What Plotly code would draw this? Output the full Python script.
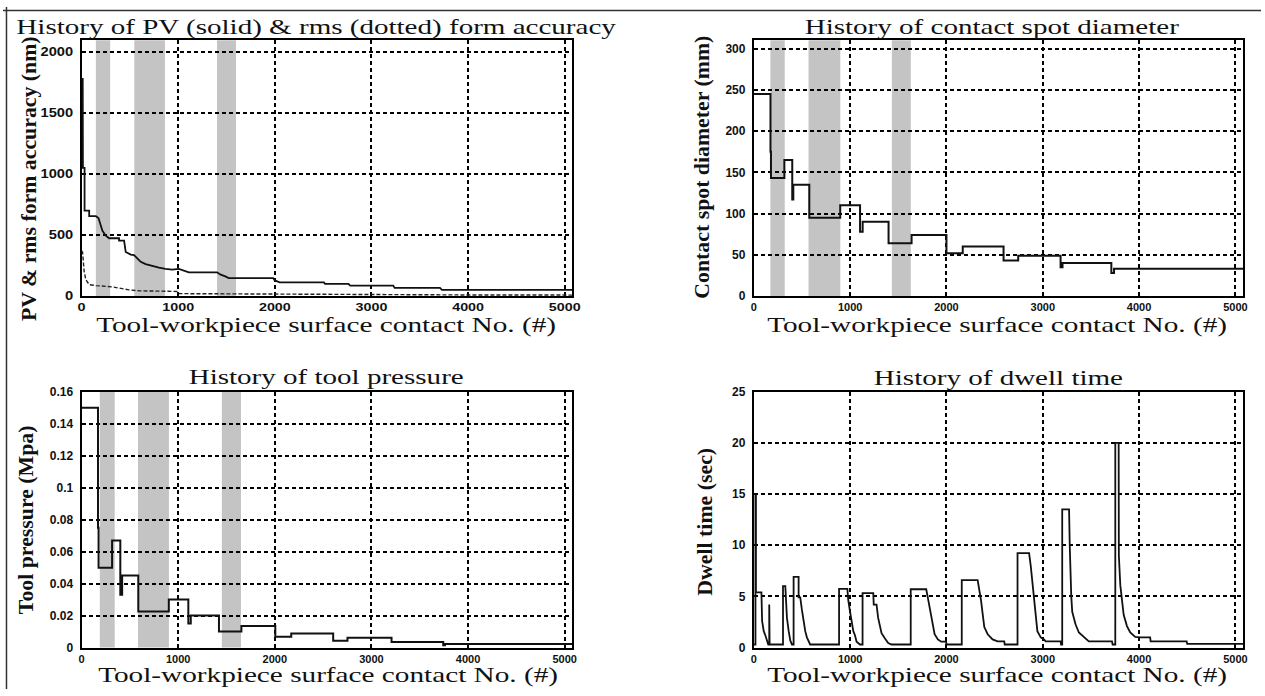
import plotly.graph_objects as go

W, H = 1265, 696

# ---- data (contact number on x) ----
pv_x = [0, 12, 14, 31, 31, 79, 79, 148, 175, 193, 216, 251, 285, 388, 388, 440, 457, 509, 543,
        577, 612, 663, 732, 801, 869, 938, 1007, 1076, 1110, 1402, 1440, 1488, 1522, 1984, 2000,
        2050, 2508, 2520, 2762, 2780, 3225, 3240, 3709, 3730, 5080]
pv_nm = [1780, 1780, 1050, 1050, 700, 700, 655, 655, 640, 590, 535, 495, 474, 474, 455, 455, 361,
         340, 335, 308, 281, 262, 246, 233, 222, 217, 222, 206, 195, 195, 175, 161, 147, 147, 128,
         112, 112, 100, 100, 86, 86, 67, 67, 51, 51]

rms_x = [0, 10, 27, 44, 79, 148, 320, 491, 595, 835, 990, 1010, 2000, 3000, 4000, 5080]
rms_nm = [370, 361, 201, 134, 94, 86, 75, 51, 43, 38, 38, 20, 15, 12, 9, 8]

spot_x = [0, 173, 178, 317, 399, 410, 576, 897, 1103, 1130, 1399, 1638, 2000, 2169, 2593, 2745,
          3185, 3205, 3712, 3740, 5080]
spot_mm = [245, 175, 143, 165, 117, 135, 95, 110, 78, 90, 64, 74, 52, 60, 43, 49, 35, 40, 28, 33, 33]

pressure_x = [0, 170, 176, 316, 401, 420, 587, 903, 1105, 1130, 1422, 1654, 2005, 2170, 2604, 2752,
              3208, 3743, 3760, 5080]
pressure_mpa = [0.150, 0.075, 0.050, 0.067, 0.033, 0.045, 0.0225, 0.030, 0.015, 0.020, 0.010, 0.0135,
                0.0067, 0.0088, 0.0043, 0.0061, 0.0035, 0.0015, 0.0022, 0.0022]

dwell_x = [0, 17, 17, 22, 22, 79, 86, 103, 121, 138, 150, 160, 160, 164, 164, 303, 303, 327, 334,
           344, 362, 379, 396, 413, 413, 465, 465, 482, 499, 517, 534, 551, 568, 585, 885, 885, 971,
           981, 999, 1016, 1033, 1050, 1067, 1102, 1129, 1129, 1240, 1245, 1274, 1291, 1309, 1326,
           1360, 1395, 1429, 1629, 1629, 1790, 1808, 1825, 1842, 1860, 1877, 1911, 1945, 1997, 2000,
           2159, 2159, 2324, 2342, 2359, 2376, 2393, 2428, 2479, 2531, 2600, 2605, 2738, 2738, 2858,
           2875, 2893, 2910, 2927, 2944, 2979, 3013, 3030, 3185, 3190, 3202, 3202, 3273, 3280, 3288,
           3296, 3306, 3320, 3340, 3375, 3426, 3478, 3719, 3725, 3753, 3753, 3788, 3790, 3805, 3822,
           3840, 3874, 3908, 3960, 4011, 4115, 4120, 4494, 4500, 5080]
dwell_sec = [0.3, 0.3, 15.0, 15.0, 5.4, 5.4, 2.6, 1.6, 1.15, 0.67, 0.3, 0.3, 4.2, 4.2, 0.3, 0.3, 6.0,
             6.0, 4.8, 2.9, 1.6, 0.67, 0.3, 0.3, 6.9, 6.9, 4.9, 4.9, 3.7, 2.6, 1.6, 1.0, 0.57, 0.3,
             0.3, 5.74, 5.74, 4.6, 3.5, 2.4, 1.6, 1.2, 0.57, 0.3, 0.3, 5.32, 5.32, 4.2, 4.2, 2.9, 2.0,
             1.4, 0.9, 0.45, 0.3, 0.3, 5.7, 5.7, 4.8, 3.9, 2.8, 1.9, 1.3, 0.8, 0.57, 0.57, 0.3, 0.3,
             6.6, 6.6, 5.74, 4.6, 3.3, 2.0, 1.3, 0.8, 0.6, 0.6, 0.3, 0.3, 9.23, 9.23, 8.0, 6.4, 4.6,
             2.9, 1.6, 1.0, 0.8, 0.61, 0.61, 0.3, 0.3, 13.5, 13.5, 10.0, 7.0, 5.0, 3.5, 2.9, 2.27,
             1.47, 1.0, 0.6, 0.6, 0.3, 0.3, 20.0, 20.0, 9.0, 6.1, 4.5, 3.2, 2.1, 1.47, 1.05, 1.0, 1.0,
             0.6, 0.6, 0.35, 0.35]

# shaded contact intervals per panel
bands_pv = [(148, 296), (546, 863), (1402, 1598)]
bands_spot = [(172, 321), (568, 898), (1433, 1630)]
bands_pressure = [(189, 343), (584, 904), (1452, 1650)]

# axes
x_ticks = [0, 1000, 2000, 3000, 4000, 5000]
x_labels = ["0", "1000", "2000", "3000", "4000", "5000"]
x_max = 5080
pv_ticks = [0, 500, 1000, 1500, 2000]
pv_max = 2096
spot_ticks = [0, 50, 100, 150, 200, 250, 300]
spot_max = 310
pressure_ticks = [0, 0.02, 0.04, 0.06, 0.08, 0.1, 0.12, 0.14, 0.16]
pressure_labels = ["0", "0.02", "0.04", "0.06", "0.08", "0.1", "0.12", "0.14", "0.16"]
pressure_max = 0.16
dwell_ticks = [0, 5, 10, 15, 20, 25]
dwell_max = 25

titles = ["History of PV (solid) & rms (dotted) form accuracy",
          "History of contact spot diameter",
          "History of tool pressure",
          "History of dwell time"]
x_title = "Tool-workpiece surface contact No. (#)"
y_titles = ["PV & rms form accuracy (nm)",
            "Contact spot diameter (mm)",
            "Tool pressure (Mpa)",
            "Dwell time (sec)"]

# ---- layout geometry (pixels) ----
panels = [  # left, right, top, bottom
    (79, 572.6, 34, 295),
    (755, 1247, 34, 295),
    (79, 572.6, 392.7, 653.7),
    (755, 1247, 392.7, 653.7),
]
title_pos = [(315, 20), (995, 20), (325, 377), (1001, 378)]
xtitle_pos = [(325, 325), (1000, 325), (327, 682), (1000, 682)]
ytitle_pos = [(27, 175), (704, 164), (24, 523), (706, 525)]


def px(x):
    return x / W


def py(y):
    return 1 - y / H


INK = "#111111"
fig = go.Figure()

axis_names = [("x", "y"), ("x2", "y2"), ("x3", "y3"), ("x4", "y4")]
y_specs = [
    (pv_ticks, [str(v) for v in pv_ticks], pv_max),
    (spot_ticks, [str(v) for v in spot_ticks], spot_max),
    (pressure_ticks, pressure_labels, pressure_max),
    (dwell_ticks, [str(v) for v in dwell_ticks], dwell_max),
]

x_tick_font = dict(family="Liberation Sans", size=11, color=INK, weight="bold")
y_tick_font = dict(family="Liberation Sans", size=12, color=INK, weight="bold")
grid = dict(showgrid=True, gridcolor="#000000", gridwidth=1.6, griddash="4px,3px",
            showline=True, linecolor="#000000", linewidth=2, mirror=True,
            zeroline=False, ticks="", fixedrange=True)

layout_axes = {}
for i, (l, r, t, b) in enumerate(panels):
    xa, ya = axis_names[i]
    xkey = "xaxis" if i == 0 else f"xaxis{i + 1}"
    ykey = "yaxis" if i == 0 else f"yaxis{i + 1}"
    yt, ylab, ymax = y_specs[i]
    layout_axes[xkey] = dict(domain=[px(l), px(r)], range=[0, x_max], anchor=ya,
                             tickvals=x_ticks, ticktext=x_labels, ticklabelstandoff=0,
                             tickfont=x_tick_font, **grid)
    layout_axes[ykey] = dict(domain=[py(b), py(t)], range=[0, ymax], anchor=xa,
                             tickvals=yt, ticktext=ylab, ticklabelstandoff=4,
                             tickfont=y_tick_font, **grid)

# traces
fig.add_trace(go.Scatter(x=pv_x, y=pv_nm, mode="lines", line=dict(color=INK, width=1.8),
                         xaxis="x", yaxis="y"))
fig.add_trace(go.Scatter(x=rms_x, y=rms_nm, mode="lines",
                         line=dict(color="#222222", width=1.4, dash="4px,2px"),
                         xaxis="x", yaxis="y"))
fig.add_trace(go.Scatter(x=spot_x, y=spot_mm, mode="lines", line=dict(color=INK, width=2, shape="hv"),
                         xaxis="x2", yaxis="y2"))
fig.add_trace(go.Scatter(x=pressure_x, y=pressure_mpa, mode="lines",
                         line=dict(color=INK, width=2, shape="hv"), xaxis="x3", yaxis="y3"))
fig.add_trace(go.Scatter(x=dwell_x, y=dwell_sec, mode="lines", line=dict(color=INK, width=1.8),
                         xaxis="x4", yaxis="y4"))

shapes = []
for bands, xa, ya in [(bands_pv, "x", "y"), (bands_spot, "x2", "y2"), (bands_pressure, "x3", "y3")]:
    for x0, x1 in bands:
        shapes.append(dict(type="rect", xref=xa, yref=f"{ya} domain", x0=x0, x1=x1, y0=0, y1=1,
                           fillcolor="#c4c4c4", line=dict(width=0), layer="below"))
# page frame (top and left edges)
shapes.append(dict(type="line", xref="paper", yref="paper", x0=0, x1=1, y0=py(3.5), y1=py(3.5),
                   line=dict(color="#333333", width=1.5)))
shapes.append(dict(type="line", xref="paper", yref="paper", x0=px(3.5), x1=px(3.5), y0=0, y1=1,
                   line=dict(color="#333333", width=1.5)))

annotations = []
serif = "Liberation Serif"
for i in range(4):
    tx, ty = title_pos[i]
    annotations.append(dict(text=titles[i], x=px(tx), y=py(ty), xref="paper", yref="paper",
                            xanchor="center", yanchor="middle", showarrow=False,
                            font=dict(family=serif, size=22, color=INK)))
    ax_, ay_ = xtitle_pos[i]
    annotations.append(dict(text=x_title, x=px(ax_), y=py(ay_), xref="paper", yref="paper",
                            xanchor="center", yanchor="middle", showarrow=False,
                            font=dict(family=serif, size=21.5, color=INK)))
    bx, by = ytitle_pos[i]
    annotations.append(dict(text=y_titles[i], x=px(bx), y=py(by), xref="paper", yref="paper",
                            xanchor="center", yanchor="middle", showarrow=False, textangle=-90,
                            font=dict(family=serif, size=20, color=INK, weight="bold")))

fig.update_layout(width=W, height=H, margin=dict(l=0, r=0, t=0, b=0),
                  paper_bgcolor="white", plot_bgcolor="white", showlegend=False,
                  shapes=shapes, annotations=annotations, **layout_axes)

# widen the serif/sans lettering horizontally, as in the printed figure
post = """
var gd = document.getElementById('{plot_id}');
function widen(t, f) {
  var w = t.getComputedTextLength();
  if (w > 0) {
    t.setAttribute('textLength', (w * f).toFixed(1));
    t.setAttribute('lengthAdjust', 'spacingAndGlyphs');
  }
}
gd.querySelectorAll('text.annotation-text').forEach(function (t) {
  var g = t.closest('g.annotation-text-g');
  var tr = g ? (g.getAttribute('transform') || '') : '';
  var big = t.style.fontSize === '21.5px';
  widen(t, tr.indexOf('rotate(-90') >= 0 ? 1.09 : (big ? 1.36 : 1.32));
});
gd.querySelectorAll('g.xtick text').forEach(function (t) { widen(t, 1.3); });
gd.querySelectorAll('g.ytick text').forEach(function (t) { widen(t, 1.22); });
"""

fig.write_html("out.html", config={"displayModeBar": False}, post_script=post)
